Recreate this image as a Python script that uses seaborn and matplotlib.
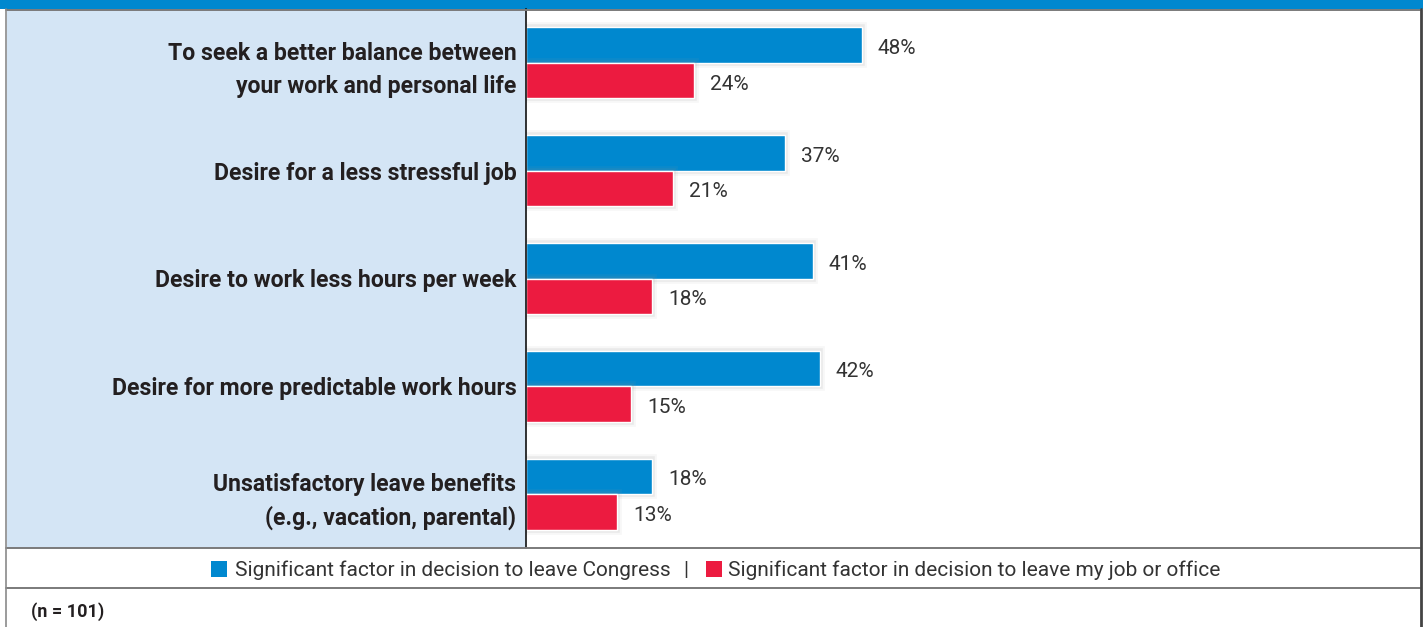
import matplotlib
matplotlib.use("Agg")
import matplotlib.pyplot as plt
from matplotlib.patches import Rectangle
from matplotlib.lines import Line2D
import matplotlib.patheffects as pe
import seaborn as sns
import pandas as pd

categories = [
    "To seek a better balance between\nyour work and personal life",
    "Desire for a less stressful job",
    "Desire to work less hours per week",
    "Desire for more predictable work hours",
    "Unsatisfactory leave benefits\n(e.g., vacation, parental)",
]
series_names = [
    "Significant factor in decision to leave Congress",
    "Significant factor in decision to leave my job or office",
]
congress_values = [48, 37, 41, 42, 18]
job_values = [24, 21, 18, 15, 13]
note_text = "(n = 101)"

BLUE = "#0088CF"
RED = "#EC1B40"
PANEL = "#D4E5F5"
TEXT = "#231F20"

sns.set_theme(style="white")
plt.rcParams["font.family"] = ["Roboto", "DejaVu Sans"]

W, H = 1423, 627
fig = plt.figure(figsize=(W / 100, H / 100), dpi=100)


def fx(x):
    return x / W


def fy(y):
    return 1 - y / H


# background blocks and frame
fig.add_artist(Rectangle((fx(0), fy(9)), 1, 9 / H, transform=fig.transFigure,
                         color=BLUE, lw=0, zorder=0))
fig.add_artist(Rectangle((fx(7), fy(548)), (526 - 7) / W, 539 / H,
                         transform=fig.transFigure, color=PANEL, lw=0, zorder=0))
for y in (9.5, 548, 588):
    fig.add_artist(Line2D([fx(6), fx(1420)], [fy(y), fy(y)], transform=fig.transFigure,
                          color="#7A7A7A", lw=1.4, zorder=1))
fig.add_artist(Line2D([fx(6), fx(6)], [fy(9), 0], transform=fig.transFigure,
                      color="#8A8A8A", lw=1.2, zorder=1))
fig.add_artist(Line2D([fx(1420.5), fx(1420.5)], [fy(9), 0], transform=fig.transFigure,
                      color="#444444", lw=2, zorder=1))

df = pd.DataFrame({
    "category": categories * 2,
    "series": [series_names[0]] * len(categories) + [series_names[1]] * len(categories),
    "value": congress_values + job_values,
})

ax = fig.add_axes([fx(526), fy(548), (1419 - 526) / W, 539 / H])
ax.patch.set_alpha(0)
sns.barplot(data=df, y="category", x="value", hue="series", orient="h",
            palette=[BLUE, RED], width=0.66, legend=False, ax=ax, saturation=1)

# soft halo around each bar
halo = [pe.Stroke(linewidth=7, foreground="#9A9A9A", alpha=0.08),
        pe.Stroke(linewidth=4, foreground="#8A8A8A", alpha=0.12),
        pe.Normal()]
for cont in ax.containers:
    for bar in cont:
        bar.set_path_effects(halo)

for cont, vals in zip(ax.containers, [congress_values, job_values]):
    texts = ax.bar_label(cont, labels=[f"{v}%" for v in vals], padding=11.5,
                         fontsize=15, color="#333333")
    for t in texts:
        t.xyann = (11.5, -2.5)

ax.set_xlim(0, (1419 - 526) / 7)
ax.set_xlabel("")
ax.set_ylabel("")
ax.set_xticks([])
ax.tick_params(axis="y", length=0, pad=7)
for lbl in ax.get_yticklabels():
    lbl.set_fontsize(16.6)
    lbl.set_fontweight("bold")
    lbl.set_color(TEXT)
    lbl.set_linespacing(1.52)
for side in ("top", "right", "bottom"):
    ax.spines[side].set_visible(False)
ax.spines["left"].set_color("#111111")
ax.spines["left"].set_linewidth(1.2)

# legend row
ly = fy(570)
fig.add_artist(Rectangle((fx(211), fy(577)), 16 / W, 16 / H, transform=fig.transFigure,
                         color=BLUE, lw=0))
fig.text(fx(235), ly, series_names[0], fontsize=15, color="#333333", va="center", ha="left")
fig.text(fx(686), ly, "|", fontsize=15, color="#333333", va="center", ha="center")
fig.add_artist(Rectangle((fx(706), fy(577)), 16 / W, 16 / H, transform=fig.transFigure,
                         color=RED, lw=0))
fig.text(fx(728), ly, series_names[1], fontsize=15, color="#333333", va="center", ha="left")

fig.text(fx(31), fy(612), note_text, fontsize=13, fontweight="bold", color=TEXT,
         va="center", ha="left")

fig.savefig("out.png", dpi=100)
